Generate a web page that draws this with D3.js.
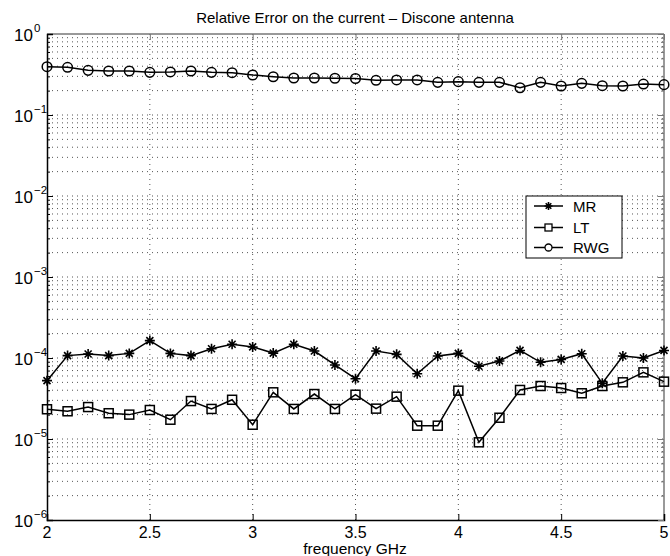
<!DOCTYPE html>
<html><head><meta charset="utf-8">
<script src="https://cdn.jsdelivr.net/npm/d3@7"></script>
<style>
body{margin:0;background:#fff;}
text{font-family:"Liberation Sans",Arial,sans-serif;fill:#000;}
</style></head>
<body><svg id="c" width="670" height="556"></svg>
<script>
const freq = [2.0,2.1,2.2,2.3,2.4,2.5,2.6,2.7,2.8,2.9,3.0,3.1,3.2,3.3,3.4,3.5,3.6,3.7,3.8,3.9,4.0,4.1,4.2,4.3,4.4,4.5,4.6,4.7,4.8,4.9,5.0];
const mr = [5.25e-5,1.07e-4,1.12e-4,1.07e-4,1.14e-4,1.64e-4,1.14e-4,1.07e-4,1.30e-4,1.48e-4,1.37e-4,1.15e-4,1.48e-4,1.22e-4,8.2e-5,5.55e-5,1.22e-4,1.11e-4,6.4e-5,1.06e-4,1.14e-4,7.9e-5,9.2e-5,1.24e-4,8.85e-5,9.6e-5,1.13e-4,4.87e-5,1.06e-4,1.0e-4,1.24e-4];
const lt = [2.33e-5,2.20e-5,2.48e-5,2.08e-5,2.0e-5,2.28e-5,1.73e-5,2.94e-5,2.35e-5,3.05e-5,1.50e-5,3.77e-5,2.35e-5,3.59e-5,2.35e-5,3.52e-5,2.37e-5,3.33e-5,1.46e-5,1.46e-5,3.95e-5,9.1e-6,1.83e-5,4.03e-5,4.51e-5,4.26e-5,3.67e-5,4.51e-5,5.01e-5,6.65e-5,5.10e-5];
const rwg = [0.395,0.388,0.356,0.349,0.349,0.336,0.340,0.349,0.336,0.333,0.312,0.297,0.286,0.286,0.284,0.282,0.268,0.271,0.271,0.253,0.258,0.253,0.253,0.217,0.253,0.228,0.246,0.230,0.228,0.241,0.237];
const xTicks = [2,2.5,3,3.5,4,4.5,5];
const xTickLabels = ["2","2.5","3","3.5","4","4.5","5"];
const yExponents = [0,-1,-2,-3,-4,-5,-6];
const seriesNames = ["MR","LT","RWG"];
const title = "Relative Error on the current \u2013 Discone antenna";
const xLabel = "frequency GHz";

const L=47, R=664, T=34, B=520;
const svg = d3.select("#c");
const x = d3.scaleLinear().domain([2,5]).range([L,R]);
const y = d3.scaleLog().domain([1e-6,1]).range([B,T]);

// grid
const minorY = [];
for (let e=-6;e<0;e++) for (let m=1;m<=9;m++) minorY.push(m*Math.pow(10,e));
minorY.push(1);
const g = svg.append("g");
g.selectAll("line.gy").data(minorY.filter(v=>v>1e-6 && v<1)).enter().append("line")
  .attr("x1",L).attr("x2",R).attr("y1",d=>y(d)).attr("y2",d=>y(d))
  .attr("stroke","#555").attr("stroke-width",1).attr("stroke-dasharray","1,4");
g.selectAll("line.gx").data(xTicks.filter(v=>v>2&&v<5)).enter().append("line")
  .attr("x1",d=>x(d)).attr("x2",d=>x(d)).attr("y1",T).attr("y2",B)
  .attr("stroke","#555").attr("stroke-width",1).attr("stroke-dasharray","1,4");

// frame top/right
svg.append("line").attr("x1",L).attr("x2",R).attr("y1",T).attr("y2",T).attr("stroke","#777").attr("stroke-width",1.5);
svg.append("line").attr("x1",R).attr("x2",R).attr("y1",T).attr("y2",B).attr("stroke","#777").attr("stroke-width",1.5);

// axes
const majorY = yExponents.map(e=>Math.pow(10,e));
const ax = svg.append("g");
const bottomAxis = d3.axisBottom(x).tickValues(xTicks).tickSize(-6).tickFormat("");
ax.append("g").attr("transform",`translate(0,${B})`).call(bottomAxis).call(s=>{s.select(".domain").attr("stroke","#000").attr("stroke-width",1.5);});
const topAxis = d3.axisTop(x).tickValues(xTicks).tickSize(-6).tickFormat("");
ax.append("g").attr("transform",`translate(0,${T})`).call(topAxis).call(s=>s.select(".domain").remove()).selectAll("line").attr("stroke","#777");
const leftMajor = d3.axisLeft(y).tickValues(majorY).tickSize(-6).tickFormat("");
ax.append("g").attr("transform",`translate(${L},0)`).call(leftMajor).call(s=>{s.select(".domain").attr("stroke","#000").attr("stroke-width",1.5);});
const leftMinor = d3.axisLeft(y).tickValues(minorY).tickSize(-3).tickFormat("");
ax.append("g").attr("transform",`translate(${L},0)`).call(leftMinor).call(s=>s.select(".domain").remove());
const rightMajor = d3.axisRight(y).tickValues(majorY).tickSize(-6).tickFormat("");
ax.append("g").attr("transform",`translate(${R},0)`).call(rightMajor).call(s=>s.select(".domain").remove()).selectAll("line").attr("stroke","#777");
const rightMinor = d3.axisRight(y).tickValues(minorY).tickSize(-3).tickFormat("");
ax.append("g").attr("transform",`translate(${R},0)`).call(rightMinor).call(s=>s.select(".domain").remove()).selectAll("line").attr("stroke","#777");

// tick labels
svg.selectAll("text.xl").data(xTicks).enter().append("text")
  .attr("x",d=>x(d)).attr("y",B+18).attr("text-anchor","middle").attr("font-size",16)
  .text((d,i)=>xTickLabels[i]);
yExponents.forEach(e=>{
  svg.append("text").attr("x",L-14).attr("y",y(Math.pow(10,e))+7).attr("text-anchor","end").attr("font-size",17).text("10");
  svg.append("text").attr("x",L-13).attr("y",y(Math.pow(10,e))-2).attr("font-size",11.5).text(e===0?"0":"\u2212"+(-e));
});

svg.append("text").attr("x",355).attr("y",23).attr("text-anchor","middle").attr("font-size",15).text(title);
svg.append("text").attr("x",355).attr("y",554).attr("text-anchor","middle").attr("font-size",15.5).text(xLabel);

// series
const line = d3.line().x((d,i)=>x(freq[i])).y(d=>y(d));
const data = [mr,lt,rwg];
data.forEach(s=>{
  svg.append("path").attr("d",line(s)).attr("fill","none").attr("stroke","#000").attr("stroke-width",1.5);
});
function star(sel,cx,cy,r){
  const p = `M${cx-r},${cy}L${cx+r},${cy}M${cx},${cy-r}L${cx},${cy+r}M${cx-r*0.7},${cy-r*0.7}L${cx+r*0.7},${cy+r*0.7}M${cx-r*0.7},${cy+r*0.7}L${cx+r*0.7},${cy-r*0.7}`;
  sel.append("path").attr("d",p).attr("stroke","#000").attr("stroke-width",1.6).attr("fill","none");
}
mr.forEach((v,i)=>star(svg,x(freq[i]),y(v),5));
svg.selectAll("rect.lt").data(lt).enter().append("rect")
  .attr("x",(d,i)=>x(freq[i])-4.5).attr("y",d=>y(d)-4.5).attr("width",9).attr("height",9)
  .attr("fill","none").attr("stroke","#000").attr("stroke-width",1.5);
svg.selectAll("circle.rwg").data(rwg).enter().append("circle")
  .attr("cx",(d,i)=>x(freq[i])).attr("cy",d=>y(d)).attr("r",4.8)
  .attr("fill","none").attr("stroke","#000").attr("stroke-width",1.5);

// legend
const lg = svg.append("g");
lg.append("rect").attr("x",526).attr("y",196).attr("width",96).attr("height",62).attr("fill","#fff").attr("stroke","#000").attr("stroke-width",1);
const ly = [206,227.5,247.5];
seriesNames.forEach((n,i)=>{
  lg.append("line").attr("x1",534).attr("x2",563).attr("y1",ly[i]).attr("y2",ly[i]).attr("stroke","#000").attr("stroke-width",1.5);
  if(i===0) star(lg,548.5,ly[i],4);
  if(i===1) lg.append("rect").attr("x",545).attr("y",ly[i]-3.5).attr("width",7).attr("height",7).attr("fill","#fff").attr("stroke","#000").attr("stroke-width",1.3);
  if(i===2) lg.append("circle").attr("cx",548.5).attr("cy",ly[i]).attr("r",3.5).attr("fill","#fff").attr("stroke","#000").attr("stroke-width",1.3);
  lg.append("text").attr("x",573).attr("y",ly[i]+5.5).attr("font-size",15).text(n);
});
</script></body></html>
